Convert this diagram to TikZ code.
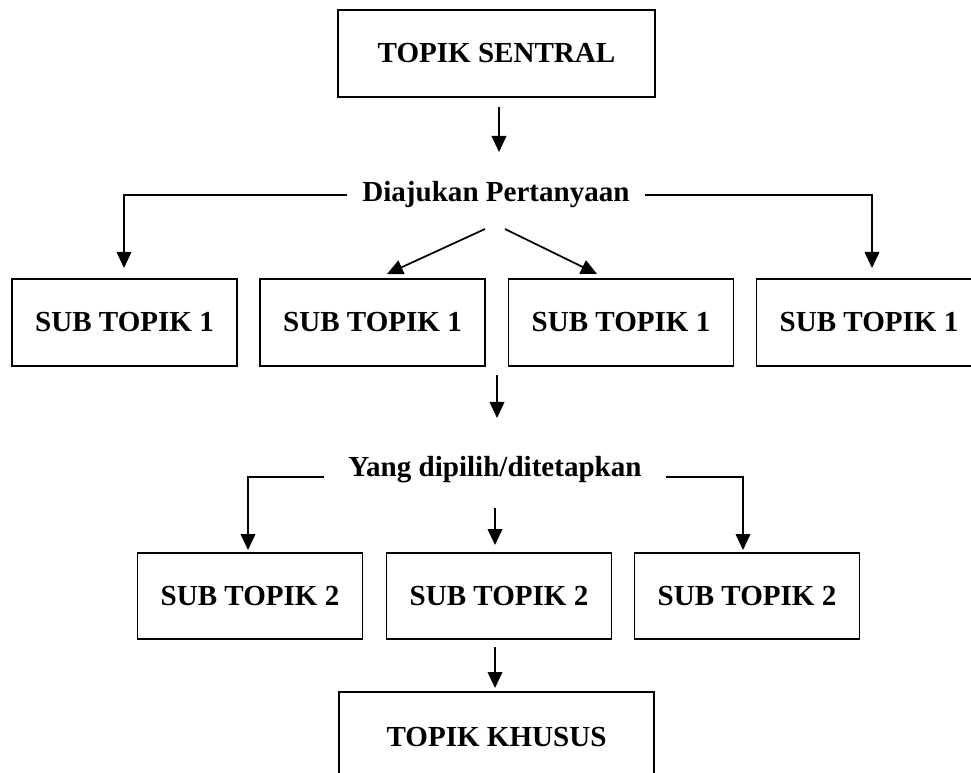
\documentclass[tikz,border=0pt]{standalone}
\usepackage{fontspec}
\setmainfont{Liberation Serif}
\usetikzlibrary{arrows.meta}
\begin{document}
\begin{tikzpicture}[x=0.75pt,y=-0.75pt,
  every node/.style={font=\fontsize{21.8}{26}\selectfont\bfseries},
  topicbox/.style={draw,line width=1.3pt,rectangle,inner sep=0pt},
  rowbox/.style={topicbox,minimum width=168.75pt,minimum height=65pt},
  label/.style={inner sep=0pt},
  arr/.style={line width=1.3pt,-{Triangle[length=12pt,width=11pt]}},
  link/.style={line width=1.3pt}]
\useasboundingbox (0,0) rectangle (971,773);
\clip (0,0) rectangle (971,773);

% central topic and question label
\node[topicbox,minimum width=237.75pt,minimum height=65.25pt] (central) at (496.5,53.5) {TOPIK SENTRAL};
\node[label,inner xsep=11pt] (ask) at (496,195) {Diajukan Pertanyaan};

% first level sub topics
\node[rowbox] (s1) at (124.5,322.5) {SUB TOPIK 1};
\node[rowbox] (s2) at (372.5,322.5) {SUB TOPIK 1};
\node[rowbox] (s3) at (621,322.5) {SUB TOPIK 1};
\node[rowbox] (s4) at (869,322.5) {SUB TOPIK 1};

% selection label
\node[label,inner xsep=18pt,anchor=base] (pick) at (495,476) {Yang dipilih/ditetapkan};

% second level sub topics
\node[rowbox] (t1) at (250,596) {SUB TOPIK 2};
\node[rowbox] (t2) at (499,596) {SUB TOPIK 2};
\node[rowbox] (t3) at (747,596) {SUB TOPIK 2};

% specific topic
\node[topicbox,minimum width=236.25pt,minimum height=67.5pt] (special) at (496.5,737) {TOPIK KHUSUS};

% arrow anchor points
\coordinate (c1a) at (499,107);
\coordinate (c1b) at (499,152);
\coordinate (d1a) at (485,229);
\coordinate (d1b) at (387,274);
\coordinate (d2a) at (505,229);
\coordinate (d2b) at (597,274);
\coordinate (m1a) at (497,375);
\coordinate (m1b) at (497,418);
\coordinate (m2a) at (495,508);
\coordinate (m2b) at (495,545);
\coordinate (m3a) at (495,647);
\coordinate (m3b) at (495,688);
\coordinate (l1) at (124,268);
\coordinate (r1) at (872,268);
\coordinate (l2) at (248,550);
\coordinate (r2) at (743,550);

% connectors
\draw[arr] (c1a) -- (c1b);
\draw[arr] (ask.west) -| (l1);
\draw[arr] (ask.east) -| (r1);
\draw[arr] (d1a) -- (d1b);
\draw[arr] (d2a) -- (d2b);
\draw[arr] (m1a) -- (m1b);
\draw[arr] ([yshift=-1pt]pick.base west) -| (l2);
\draw[arr] ([yshift=-1pt]pick.base east) -| (r2);
\draw[arr] (m2a) -- (m2b);
\draw[arr] (m3a) -- (m3b);
\end{tikzpicture}
\end{document}
